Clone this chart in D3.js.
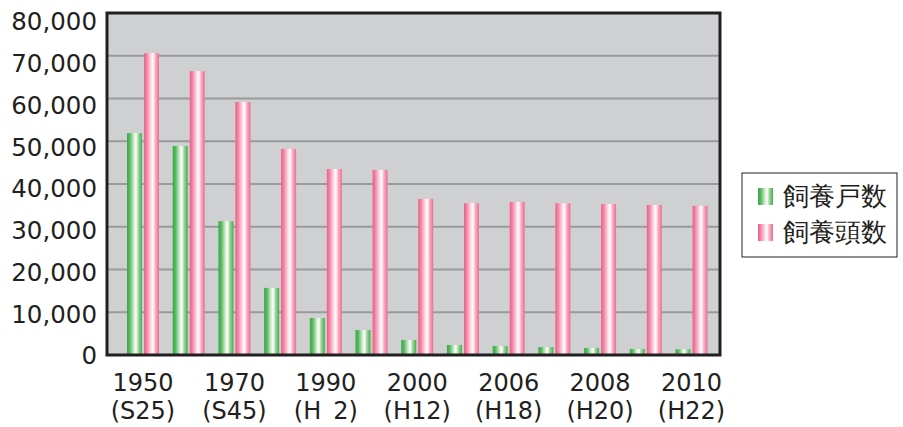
<!DOCTYPE html>
<html><head><meta charset="utf-8">
<script src="https://cdn.jsdelivr.net/npm/d3@7"></script>
<style>body{margin:0;background:#fff}svg{display:block}text{font-family:"DejaVu Sans",sans-serif;fill:#231f20}</style>
</head><body><svg id="c" width="903" height="427"></svg>
<script>
const years = ["1950","1960","1970","1980","1990","1995","2000","2005","2006","2007","2008","2009","2010"];
const labelYears = ["1950","1970","1990","2000","2006","2008","2010"];
const labelEras = ["(S25)","(S45)","(H\u20022)","(H12)","(H18)","(H20)","(H22)"];
const households = [51900,48900,31300,15700,8650,5850,3500,2350,2100,1850,1650,1400,1350];
const heads = [70600,66400,59200,48200,43500,43300,36500,35500,35800,35500,35300,35100,34900];
const seriesNames = ["飼養戸数","飼養頭数"];
const yTicks = [0,10000,20000,30000,40000,50000,60000,70000,80000];

const svg = d3.select("#c");
const L=107, T=13, R=720, B=355;
const y = d3.scaleLinear().domain([0,80000]).range([B,T]);
const yLab = d3.scaleLinear().domain([0,80000]).range([355,21]);
const x = d3.scaleBand().domain(years).range([127,707.5]).paddingInner(0.30).paddingOuter(0);
const sub = d3.scaleBand().domain([0,1]).range([0,x.bandwidth()]).paddingInner(0.12);

const defs = svg.append("defs");
function grad(id, stops){
  const g = defs.append("linearGradient").attr("id",id).attr("x1","0").attr("x2","1").attr("y1","0").attr("y2","0");
  stops.forEach(s=>g.append("stop").attr("offset",s[0]).attr("stop-color",s[1]));
}
grad("gG",[[0,"#36a845"],[0.2,"#5cba63"],[0.45,"#cfeacb"],[0.6,"#ffffff"],[0.75,"#a6d7a3"],[1,"#3fae4a"]]);
grad("gP",[[0,"#ee5c87"],[0.2,"#f38aa8"],[0.45,"#fcd9e3"],[0.6,"#ffffff"],[0.75,"#f7b3c6"],[1,"#ef6a92"]]);

svg.append("rect").attr("x",L).attr("y",T).attr("width",R-L).attr("height",B-T).attr("fill","#cfd0d2");
svg.append("g").selectAll("line").data(yTicks.slice(1,-1)).join("line")
  .attr("x1",L).attr("x2",R).attr("y1",d=>y(d)).attr("y2",d=>y(d))
  .attr("stroke","#9a9a9c").attr("stroke-width",2);

const series = [households, heads];
const fills = ["url(#gG)","url(#gP)"];
series.forEach((vals,si)=>{
  svg.append("g").selectAll("rect").data(vals).join("rect")
    .attr("x",(d,i)=>x(years[i])+sub(si))
    .attr("width",sub.bandwidth())
    .attr("y",d=>y(d))
    .attr("height",d=>B-y(d))
    .attr("fill",fills[si]);
});

svg.append("rect").attr("x",L).attr("y",T).attr("width",R-L).attr("height",B-T)
  .attr("fill","none").attr("stroke","#231f20").attr("stroke-width",3);

// y axis labels
const ya = d3.axisLeft(yLab).tickValues(yTicks).tickFormat(d3.format(",")).tickSize(0).tickPadding(10);
svg.append("g").attr("transform",`translate(${L},0)`).call(ya)
  .call(g=>g.select(".domain").remove())
  .selectAll("text").attr("font-size",24.5).attr("font-family","'DejaVu Sans',sans-serif").attr("fill","#231f20").attr("dy","0.36em");

// x labels
const lg = svg.append("g");
labelYears.forEach((yr,i)=>{
  const cx = x(yr)+x.bandwidth()/2;
  lg.append("text").attr("x",cx).attr("y",391).attr("text-anchor","middle").attr("font-size",24).text(yr);
  lg.append("text").attr("x",cx).attr("y",419).attr("text-anchor","middle").attr("font-size",24).text(labelEras[i]);
});

// legend
const leg = svg.append("g");
leg.append("rect").attr("x",742).attr("y",173).attr("width",155).attr("height",84).attr("fill","#fff").attr("stroke","#231f20").attr("stroke-width",1);
seriesNames.forEach((n,i)=>{
  leg.append("rect").attr("x",758).attr("y",188+i*36).attr("width",15).attr("height",17).attr("fill",fills[i]);
  leg.append("text").attr("x",783).attr("y",205+i*36).attr("font-size",25.5).attr("font-family","'Noto Sans CJK JP',sans-serif").text(n);
});
</script></body></html>
